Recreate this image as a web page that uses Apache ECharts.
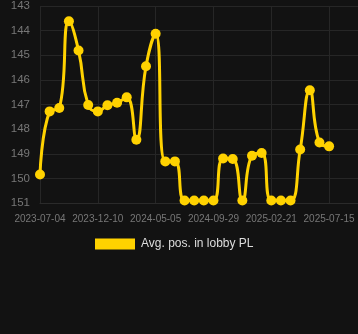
<!DOCTYPE html>
<html><head><meta charset="utf-8">
<script src="https://cdn.jsdelivr.net/npm/echarts@6/dist/echarts.min.js"></script>
<style>html,body{margin:0;padding:0;background:#121212;}#c{width:358px;height:334px;}</style>
</head><body><div id="c"></div>
<script>
const categories = ["2023-07-04","2023-07-30","2023-08-26","2023-09-21","2023-10-18","2023-11-14",
"2023-12-10","2024-01-03","2024-01-27","2024-02-21","2024-03-16","2024-04-10",
"2024-05-05","2024-05-29","2024-06-23","2024-07-17","2024-08-11","2024-09-05",
"2024-09-29","2024-10-23","2024-11-17","2024-12-11","2025-01-04","2025-01-28",
"2025-02-21","2025-03-17","2025-04-10","2025-05-04","2025-05-28","2025-06-21",
"2025-07-15","2025-08-08","2025-09-01","2025-09-25"];
const avgPos = [149.84,147.28,147.14,143.62,144.81,147.02,147.28,147.03,146.93,146.71,
148.43,145.45,144.13,149.31,149.31,150.9,150.9,150.9,150.9,149.19,149.21,150.9,149.08,148.97,
150.9,150.9,150.9,148.83,146.42,148.54,148.70];
const seriesName = "Avg. pos. in lobby PL";
const yMin = 143, yMax = 151;

const chart = echarts.init(document.getElementById('c'));
chart.setOption({
  backgroundColor: '#121212',
  animation: false,
  grid: {left: 40, right: 0, top: 6, bottom: 131},
  legend: {
    top: 233, left: 90,
    itemWidth: 40, itemHeight: 11, itemGap: 10,
    icon: 'rect',
    textStyle: {color: '#dddddd', fontSize: 12, padding: [0,0,0,1], fontFamily: 'Liberation Sans, Arial, sans-serif'},
    data: [seriesName]
  },
  xAxis: {
    type: 'category', data: categories, boundaryGap: false,
    axisLine: {show: true, lineStyle: {color: '#2a2a2a'}},
    axisTick: {show: false},
    axisLabel: {interval: 5, color: '#777777', fontSize: 10, margin: 11, fontFamily: 'Liberation Sans, Arial, sans-serif'},
    splitLine: {show: true, interval: 5, lineStyle: {color: '#262626'}}
  },
  yAxis: {
    type: 'value', inverse: true, min: yMin, max: yMax, interval: 1,
    axisLine: {show: false}, axisTick: {show: false},
    axisLabel: {color: '#777777', fontSize: 11.5, margin: 10, fontFamily: 'Liberation Sans, Arial, sans-serif'},
    splitLine: {lineStyle: {color: '#262626'}}
  },
  series: [{
    name: seriesName, type: 'line', data: avgPos, smooth: true,
    symbol: 'circle', symbolSize: 10, showSymbol: true, showAllSymbol: true,
    lineStyle: {color: '#ffd200', width: 3},
    itemStyle: {color: '#ffd200'}
  }]
});
</script></body></html>
